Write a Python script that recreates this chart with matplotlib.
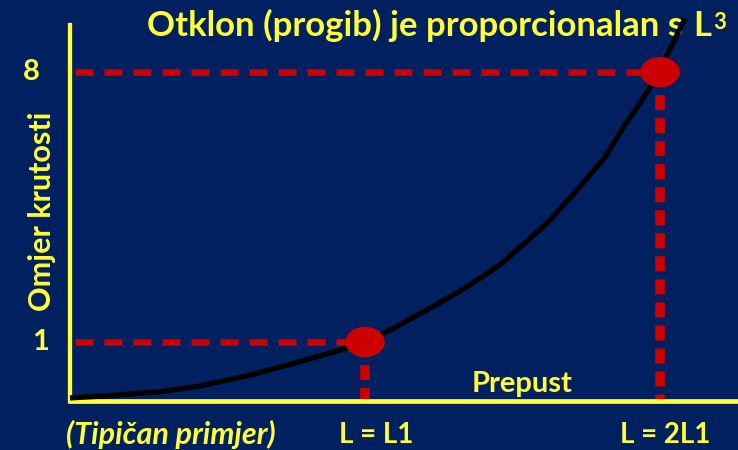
import matplotlib
matplotlib.use('Agg')
import matplotlib.pyplot as plt
import matplotlib.transforms as mtransforms
from matplotlib.patches import Ellipse

# curve: span (in units of L1) vs stiffness ratio
span = [0.0, 0.136, 0.305, 0.441, 0.610, 0.780, 0.915, 1.0, 1.085,
        1.231, 1.345, 1.458, 1.617, 1.729, 1.814, 1.881, 1.939, 1.993,
        2.037, 2.085]
ratio = [-0.45, -0.39, -0.29, -0.14, 0.14, 0.49, 0.79, 1.0, 1.31,
         1.92, 2.43, 3.00, 4.08, 5.03, 5.80, 6.63, 7.27, 7.95,
         8.65, 9.39]

# the two marked points
mark_span = [1.0, 2.0]
mark_ratio = [1.0, 8.0]
tick_labels = ['1', '8']
span_labels = ['L = L1', 'L = 2L1']

BG = '#002060'
YEL = '#ffff33'
RED = '#cc0000'
FONT = 'Lato'

fig = plt.figure(figsize=(7.38, 4.5), dpi=100, facecolor=BG)
ax = fig.add_axes([70 / 738, 49 / 450, 668 / 738, 376 / 450])
ax.set_facecolor(BG)
ax.set_xlim(0, 668 / 295)
ax.set_ylim(-0.53, 9.22)

for s in ['top', 'right']:
    ax.spines[s].set_visible(False)
ax.spines['left'].set_color(YEL)
ax.spines['left'].set_linewidth(3.1)
ax.spines['bottom'].set_color(YEL)
ax.spines['bottom'].set_linewidth(3.4)
ax.set_xticks([])
ax.set_yticks([])

# value labels on the y axis
ytrans = mtransforms.blended_transform_factory(fig.transFigure, ax.transData)
for ys, lab, px in zip(mark_ratio, tick_labels, [41, 31]):
    ax.text(px / 738, ys, lab, transform=ytrans, ha='center', va='center',
            color=YEL, fontsize=21, fontweight='bold', family=FONT,
            clip_on=False)

# dashed guide lines
for xs, ys in zip(mark_span, mark_ratio):
    ax.plot([0.017, xs], [ys, ys], color=RED, lw=4.8,
            dashes=(2.7, 1.65), dash_capstyle='butt', zorder=2)
    ax.plot([xs, xs], [ys, -0.5], color=RED, lw=7,
            dashes=(1.55, 0.82), dash_capstyle='butt', zorder=2)

ax.plot(span, ratio, color='black', lw=3.8, zorder=4, clip_on=False,
        solid_capstyle='butt', solid_joinstyle='round')

for xs, ys in zip(mark_span, mark_ratio):
    ax.add_patch(Ellipse((xs, ys), 38 / 295, 29 / 38.571,
                         color=RED, zorder=5))

# title drawn under the curve
ax.text(683 / 738, 1 - 36 / 450, 'Otklon (progib) je proporcionalan s',
        transform=fig.transFigure, ha='right', va='baseline', color=YEL,
        fontsize=25, fontweight='bold', family=FONT, zorder=3,
        clip_on=False)
ax.text(693 / 738, 1 - 36 / 450, 'L', transform=fig.transFigure,
        ha='left', va='baseline', color=YEL, fontsize=25,
        fontweight='bold', family=FONT, zorder=3, clip_on=False)
ax.text(713 / 738, 1 - 29 / 450, '3', transform=fig.transFigure,
        ha='left', va='baseline', color=YEL, fontsize=16,
        fontweight='bold', family=FONT, zorder=3, clip_on=False)

fig.text(42 / 738, 1 - 211 / 450, 'Omjer krutosti', rotation=90,
         ha='center', va='center', color=YEL, fontsize=22,
         fontweight='bold', family=FONT)
fig.text(522 / 738, 1 - 384 / 450, 'Prepust', ha='center', va='center',
         color=YEL, fontsize=21, fontweight='bold', family=FONT)
fig.text(171 / 738, 1 - 434 / 450, '(Tipičan primjer)', ha='center',
         va='center', color=YEL, fontsize=22, fontweight='bold',
         style='italic', family=FONT)
for xs, lab, px in zip(mark_span, span_labels, [376, 665]):
    fig.text(px / 738, 1 - 435 / 450, lab, ha='center', va='center',
             color=YEL, fontsize=20, fontweight='bold', family=FONT)

fig.savefig('out.png', dpi=100, facecolor=BG)
